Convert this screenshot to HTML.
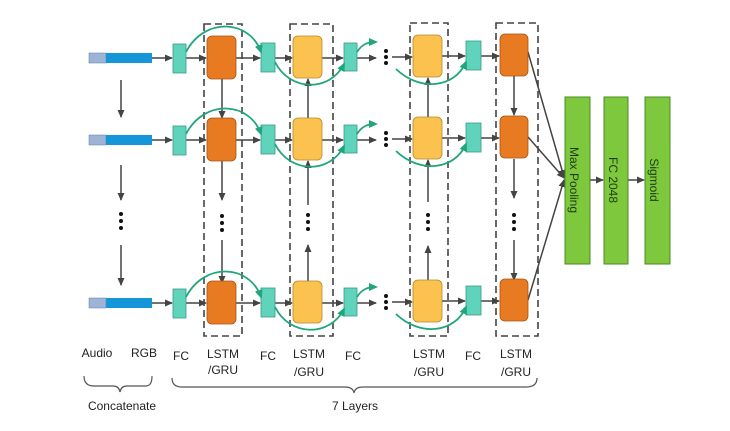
<!DOCTYPE html>
<html><head><meta charset="utf-8"><style>html,body{margin:0;padding:0;background:#fff}svg{display:block}</style></head>
<body>
<svg width="730" height="431" viewBox="0 0 730 431" xmlns="http://www.w3.org/2000/svg" font-family="Liberation Sans, sans-serif">
<defs>
<marker id="a" markerWidth="8" markerHeight="8" refX="7" refY="4" orient="auto" markerUnits="userSpaceOnUse"><path d="M0,0.5 L8,4 L0,7.5 Z" fill="#444"/></marker>
<marker id="g" markerWidth="9" markerHeight="9" refX="7" refY="4.5" orient="auto" markerUnits="userSpaceOnUse"><path d="M0,0.5 L9,4.5 L0,8.5 Z" fill="#1fa67a"/></marker>
</defs>
<rect width="730" height="431" fill="#fff"/>
<g fill="none" stroke="#444" stroke-width="1.6" stroke-dasharray="7,4">
<rect x="204" y="24" width="38" height="312"/>
<rect x="290" y="24" width="43" height="312"/>
<rect x="410" y="23" width="38" height="313"/>
<rect x="496" y="23" width="42" height="313"/>
</g>
<g stroke="#444" stroke-width="1.5" fill="none">
<line x1="121" y1="80" x2="121" y2="117" marker-end="url(#a)"/>
<line x1="121" y1="165" x2="121" y2="200" marker-end="url(#a)"/>
<line x1="121" y1="245" x2="121" y2="285" marker-end="url(#a)"/>
<line x1="222" y1="79" x2="222" y2="118" marker-end="url(#a)"/>
<line x1="222" y1="160" x2="222" y2="200" marker-end="url(#a)"/>
<line x1="222" y1="240" x2="222" y2="283" marker-end="url(#a)"/>
<line x1="308" y1="118" x2="308" y2="79" marker-end="url(#a)"/>
<line x1="308" y1="205" x2="308" y2="161" marker-end="url(#a)"/>
<line x1="308" y1="283" x2="308" y2="245" marker-end="url(#a)"/>
<line x1="428" y1="118" x2="428" y2="78" marker-end="url(#a)"/>
<line x1="428" y1="202" x2="428" y2="160" marker-end="url(#a)"/>
<line x1="428" y1="282" x2="428" y2="246" marker-end="url(#a)"/>
<line x1="514" y1="76" x2="514" y2="115" marker-end="url(#a)"/>
<line x1="514" y1="159" x2="514" y2="198" marker-end="url(#a)"/>
<line x1="514" y1="240" x2="514" y2="280" marker-end="url(#a)"/>
<line x1="528" y1="52" x2="564" y2="177" marker-end="url(#a)"/>
<line x1="528" y1="137" x2="564" y2="178" marker-end="url(#a)"/>
<line x1="528" y1="300" x2="564" y2="180" marker-end="url(#a)"/>
<line x1="590" y1="180" x2="603" y2="180" marker-end="url(#a)"/>
<line x1="628" y1="180" x2="644" y2="180" marker-end="url(#a)"/>
</g>
<g fill="#111">
<circle cx="222" cy="216" r="2"/><circle cx="222" cy="223" r="2"/><circle cx="222" cy="230" r="2"/>
<circle cx="121" cy="214" r="2"/><circle cx="121" cy="221" r="2"/><circle cx="121" cy="228" r="2"/>
<circle cx="308" cy="215" r="2"/><circle cx="308" cy="222" r="2"/><circle cx="308" cy="229" r="2"/>
<circle cx="428" cy="215" r="2"/><circle cx="428" cy="222" r="2"/><circle cx="428" cy="229" r="2"/>
<circle cx="514" cy="215" r="2"/><circle cx="514" cy="222" r="2"/><circle cx="514" cy="229" r="2"/>
</g>
<g id="row">
<rect x="89" y="53" width="17" height="10" fill="#9db4d6" stroke="#5a7aa8" stroke-width="0.5"/>
<rect x="106" y="53" width="46" height="10" fill="#1596d8"/>
<g stroke="#444" stroke-width="1.5" fill="none">
<line x1="152" y1="58" x2="172" y2="58" marker-end="url(#a)"/>
<line x1="186" y1="58" x2="206" y2="58" marker-end="url(#a)"/>
<line x1="236" y1="58" x2="260" y2="58" marker-end="url(#a)"/>
<line x1="275" y1="58" x2="292" y2="58" marker-end="url(#a)"/>
<line x1="322" y1="58" x2="343" y2="58" marker-end="url(#a)"/>
<line x1="357" y1="58" x2="376" y2="58" marker-end="url(#a)"/>
<line x1="392" y1="57" x2="412" y2="57" marker-end="url(#a)"/>
<line x1="442" y1="56" x2="465" y2="56" marker-end="url(#a)"/>
<line x1="481" y1="56" x2="499" y2="56" marker-end="url(#a)"/>
</g>
<rect x="173" y="44" width="13" height="29" fill="#5fd3bb" stroke="#3a9a86" stroke-width="0.8"/>
<rect x="261" y="43" width="14" height="29" fill="#5fd3bb" stroke="#3a9a86" stroke-width="0.8"/>
<rect x="344" y="43" width="13" height="28" fill="#5fd3bb" stroke="#3a9a86" stroke-width="0.8"/>
<rect x="466" y="41" width="15" height="29" fill="#5fd3bb" stroke="#3a9a86" stroke-width="0.8"/>
<rect x="207" y="36" width="29" height="43" rx="5" fill="#e87a22" stroke="#a65412" stroke-width="0.8"/>
<rect x="293" y="36" width="29" height="42" rx="5" fill="#fcc24f" stroke="#b38a2a" stroke-width="0.8"/>
<rect x="413" y="35" width="29" height="42" rx="5" fill="#fcc24f" stroke="#b38a2a" stroke-width="0.8"/>
<rect x="500" y="34" width="28" height="42" rx="5" fill="#e87a22" stroke="#a65412" stroke-width="0.8"/>
<g fill="#111"><circle cx="386" cy="51" r="2"/><circle cx="386" cy="57" r="2"/><circle cx="386" cy="63" r="2"/></g>
<g stroke="#1fa67a" stroke-width="1.8" fill="none">
<path d="M186,52 C205,16 250,20 261,52" marker-end="url(#g)"/>
<path d="M275,62 C290,92 330,92 344,64" marker-end="url(#g)"/>
<path d="M357,52 C362,44 368,42 376,42" marker-end="url(#g)"/>
<path d="M396,69 C420,92 455,88 466,62" marker-end="url(#g)"/>
</g>
</g>
<use href="#row" y="82"/>
<use href="#row" y="245"/>
<rect x="565" y="97" width="25" height="167" fill="#7dc83c" stroke="#4e8a25" stroke-width="1"/>
<rect x="604" y="97" width="24" height="167" fill="#7dc83c" stroke="#4e8a25" stroke-width="1"/>
<rect x="645" y="97" width="25" height="167" fill="#7dc83c" stroke="#4e8a25" stroke-width="1"/>
<g font-size="12" fill="#1e3b14" text-anchor="middle">
<text transform="translate(573,180) rotate(90)" dominant-baseline="middle">Max Pooling</text>
<text transform="translate(612,180) rotate(90)" dominant-baseline="middle">FC 2048</text>
<text transform="translate(653,180) rotate(90)" dominant-baseline="middle">Sigmoid</text>
</g>
<g font-size="12" fill="#222" text-anchor="middle">
<text x="97" y="357">Audio</text><text x="144" y="357">RGB</text>
<text x="181" y="360">FC</text><text x="268" y="360">FC</text><text x="353" y="360">FC</text><text x="473" y="360">FC</text>
<text x="223" y="358">LSTM</text><text x="223" y="374">/GRU</text>
<text x="309" y="358">LSTM</text><text x="309" y="376">/GRU</text>
<text x="429" y="358">LSTM</text><text x="429" y="376">/GRU</text>
<text x="516" y="358">LSTM</text><text x="516" y="376">/GRU</text>
<text x="122" y="410">Concatenate</text>
<text x="355" y="410">7 Layers</text>
</g>
<g stroke="#555" stroke-width="1.2" fill="none">
<path d="M84,376 Q84,386 94,386 L113,386 Q119,386 120,392 Q121,386 127,386 L146,386 Q152,386 152,376"/>
<path d="M172,378 Q172,387 182,387 L345,387 Q353,387 354,393 Q355,387 363,387 L526,387 Q537,387 537,378"/>
</g>
</svg>
</body></html>
